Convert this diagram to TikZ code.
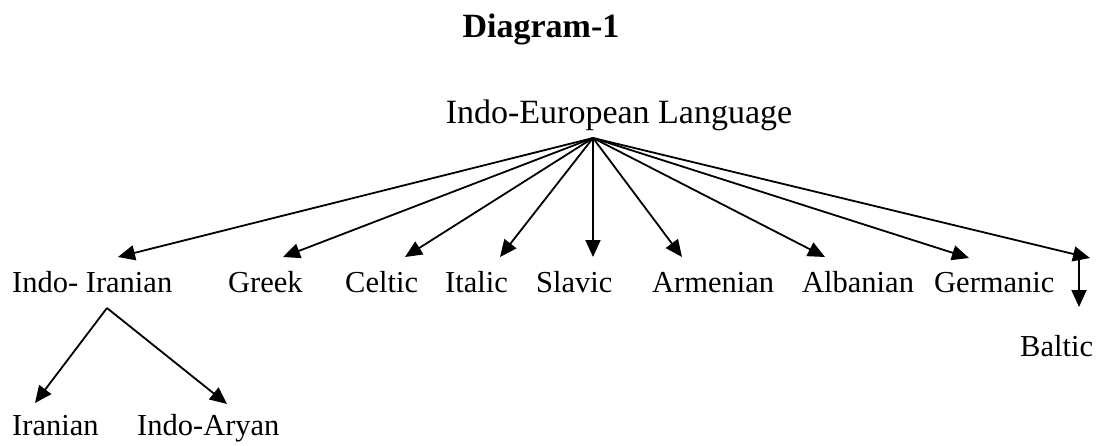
\documentclass[tikz,border=0pt]{standalone}
\usepackage{fontspec}
\setmainfont{Liberation Serif}
\usetikzlibrary{arrows.meta}
\begin{document}
\begin{tikzpicture}[x=1pt,y=-1pt,
  lang/.style={inner sep=0pt,anchor=base west,font=\fontsize{30.5}{36}\selectfont},
  rootlabel/.style={inner sep=0pt,anchor=base,font=\fontsize{34}{40}\selectfont},
  titlelabel/.style={inner sep=0pt,anchor=base,font=\fontsize{34}{40}\selectfont\bfseries},
  arr/.style={line width=1.8pt,-{Triangle[length=17pt,width=15pt]}}]
\useasboundingbox (0,0) rectangle (1096,445);
\fill[white] (0,0) rectangle (1096,445);

% title and root
\node[titlelabel] (title) at (541,37) {Diagram-1};
\node[rootlabel] (root) at (619,123) {Indo-European Language};

% branches
\node[lang] (indoiranian) at (12,292) {Indo- Iranian};
\node[lang] (greek)       at (228,292) {Greek};
\node[lang] (celtic)      at (345,292) {Celtic};
\node[lang] (italic)      at (445,292) {Italic};
\node[lang] (slavic)      at (536,292) {Slavic};
\node[lang] (armenian)    at (652,292) {Armenian};
\node[lang] (albanian)    at (802,292) {Albanian};
\node[lang] (germanic)    at (934,292) {Germanic};
\node[lang] (baltic)      at (1020,356) {Baltic};
\node[lang] (iranian)     at (12,435) {Iranian};
\node[lang] (indoaryan)   at (137,435) {Indo-Aryan};

% connector ends
\coordinate (hub)    at (593,138);
\coordinate (t-ii)   at (118,257);
\coordinate (t-gr)   at (283,257);
\coordinate (t-ce)   at (405,257);
\coordinate (t-it)   at (500,257);
\coordinate (t-sl)   at (593,257);
\coordinate (t-ar)   at (682,257);
\coordinate (t-al)   at (825,257);
\coordinate (t-ge)   at (969,258);
\coordinate (t-bc)   at (1090,258);
\coordinate (b-top)  at (1079,254);
\coordinate (b-end)  at (1079,307);
\coordinate (ii-hub) at (107,308);
\coordinate (t-ir)   at (35,403);
\coordinate (t-ia)   at (227,404);

\foreach \t in {t-ii,t-gr,t-ce,t-it,t-sl,t-ar,t-al,t-ge,t-bc}
  \draw[arr] (hub) -- (\t);
\draw[arr] (b-top) -- (b-end);
\draw[arr] (ii-hub) -- (t-ir);
\draw[arr] (ii-hub) -- (t-ia);
\end{tikzpicture}
\end{document}
